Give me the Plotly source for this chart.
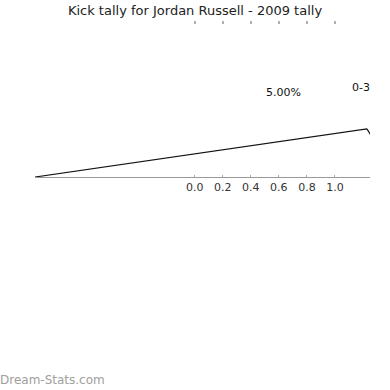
import numpy as np
import plotly.graph_objects as go

# ---- data ----
categories = ["0-3"]
percentages = [5.00]
tick_values = [0.0, 0.2, 0.4, 0.6, 0.8, 1.0]
tick_labels = ["0.0", "0.2", "0.4", "0.6", "0.8", "1.0"]
title_text = "Kick tally for Jordan Russell - 2009 tally"
watermark = "Dream-Stats.com"

# ---- geometry (layout / style) ----
X_RANGE = [-1.138, 1.2495]
Y_RANGE = [0, 1]
CX, CY = X_RANGE[0], 0.0   # wedge centre
RX, RY = 2.486, 1.0        # wedge radii in data units
PLOT_TOP, PLOT_BOTTOM, PLOT_LEFT, PLOT_RIGHT = 21, 177, 35, 370


def px_to_paper_y(py):
    return (PLOT_BOTTOM - py) / (PLOT_BOTTOM - PLOT_TOP)


def px_to_paper_x(px):
    return (px - PLOT_LEFT) / (PLOT_RIGHT - PLOT_LEFT)


fig = go.Figure()

start = 0.0
for cat, pct in zip(categories, percentages):
    sweep = pct / 100.0 * 2 * np.pi
    th = np.linspace(start, start + sweep, 60)
    xs = list(CX + RX * np.cos(th)) + [CX]
    ys = list(CY + RY * np.sin(th)) + [CY]
    fig.add_trace(go.Scatter(x=xs, y=ys, mode="lines",
                             line=dict(color="#111111", width=1.2),
                             hoverinfo="skip", showlegend=False, name=cat))
    start += sweep

# invisible trace for the top axis
fig.add_trace(go.Scatter(x=[0], y=[-5], xaxis="x2", yaxis="y", mode="markers",
                         marker=dict(opacity=0), showlegend=False,
                         hoverinfo="skip"))

fig.update_layout(
    width=390, height=390,
    margin=dict(l=PLOT_LEFT, r=390 - PLOT_RIGHT, t=PLOT_TOP, b=390 - PLOT_BOTTOM),
    paper_bgcolor="white", plot_bgcolor="white",
    font=dict(family="DejaVu Sans", size=11, color="#333333"),
    title=dict(text=title_text, x=0.5, xanchor="center", y=1 - 10.5 / 390,
               yanchor="middle", yref="container",
               font=dict(family="DejaVu Sans", size=13, color="#222222")),
    xaxis=dict(range=X_RANGE, tickvals=tick_values, ticktext=tick_labels,
               showgrid=False, zeroline=False, showline=True,
               linecolor="#999999", linewidth=1,
               ticks="inside", ticklen=2, tickcolor="#aaaaaa",
               tickfont=dict(family="DejaVu Sans", size=11, color="#333333"),
               fixedrange=True),
    xaxis2=dict(range=X_RANGE, overlaying="x", side="top", anchor="y",
                tickvals=tick_values, ticktext=tick_labels,
                showticklabels=False,
                showgrid=False, zeroline=False, showline=False,
                ticks="inside", ticklen=3, tickwidth=1.5, tickcolor="#b0b0b0",
                fixedrange=True),
    yaxis=dict(range=Y_RANGE, visible=False, showgrid=False, zeroline=False,
               fixedrange=True),
    showlegend=False,
    annotations=[
        dict(text=f"{percentages[0]:.2f}%", x=px_to_paper_x(283),
             y=px_to_paper_y(92), xref="paper", yref="paper",
             xanchor="center", yanchor="middle", showarrow=False,
             font=dict(family="DejaVu Sans", size=11, color="#111111")),
        dict(text=categories[0], x=px_to_paper_x(361), y=px_to_paper_y(87),
             xref="paper", yref="paper", xanchor="center", yanchor="middle",
             showarrow=False,
             font=dict(family="DejaVu Sans", size=11, color="#111111")),
        dict(text=watermark, x=px_to_paper_x(0), y=px_to_paper_y(379.5),
             xref="paper", yref="paper", xanchor="left", yanchor="middle",
             xshift=-2, showarrow=False,
             font=dict(family="DejaVu Sans", size=12, color="#a0a0a0")),
    ],
)

fig.write_html("out.html")
